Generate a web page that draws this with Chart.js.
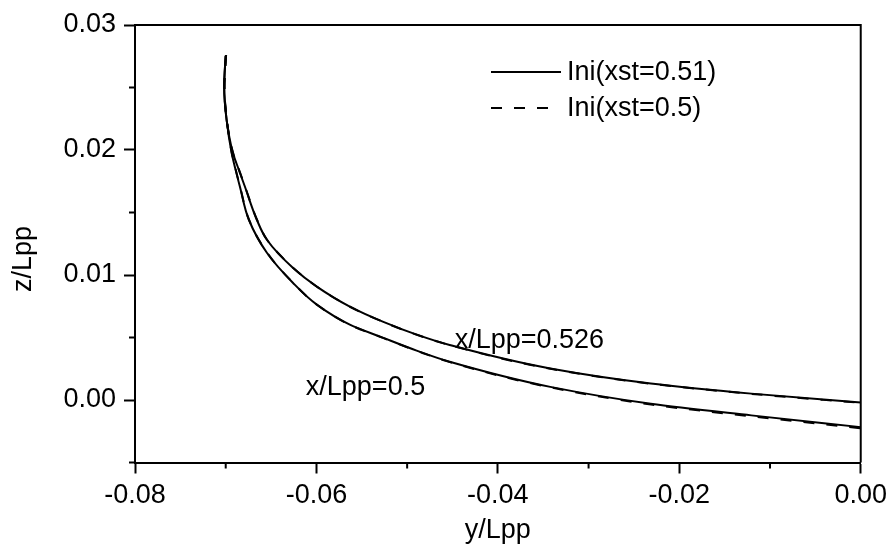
<!DOCTYPE html>
<html>
<head>
<meta charset="utf-8">
<script src="https://cdn.jsdelivr.net/npm/chart.js@4.4.1/dist/chart.umd.min.js"></script>
<style>
  html, body { margin: 0; padding: 0; background: #fff; }
  #wrap { width: 893px; height: 549px; }
</style>
</head>
<body>
<div id="wrap"><canvas id="c" width="893" height="549"></canvas></div>
<script>
// Section x/Lpp = 0.526, initial xst = 0.51 (solid)
const yA526 = [-0.07001, -0.07017, -0.06990, -0.06921, -0.06855, -0.06789, -0.06657, -0.06546, -0.06260, -0.05996, -0.05632, -0.05269, -0.04895, -0.04531, -0.03422, -0.02314, -0.01206, 0.0];
const zA526 = [0.02754, 0.02506, 0.02240, 0.01977, 0.01841, 0.01708, 0.01442, 0.01282, 0.01058, 0.00907, 0.00747, 0.00627, 0.00523, 0.00440, 0.00252, 0.00132, 0.00051, -0.00020];
// Section x/Lpp = 0.5, initial xst = 0.51 (solid)
const yA500 = [-0.07001, -0.07017, -0.06990, -0.06935, -0.06891, -0.06844, -0.06745, -0.06546, -0.06260, -0.05996, -0.05632, -0.05269, -0.04895, -0.04531, -0.03422, -0.02314, -0.01206, 0.0];
const zA500 = [0.02754, 0.02506, 0.02240, 0.01977, 0.01841, 0.01708, 0.01442, 0.01178, 0.00938, 0.00763, 0.00603, 0.00499, 0.00395, 0.00306, 0.00105, -0.00030, -0.00123, -0.00217];
// Same sections, initial xst = 0.5 (dashed)
const yB526 = [-0.06996, -0.07014, -0.06988, -0.06919, -0.06853, -0.06787, -0.06655, -0.06544, -0.06258, -0.05994, -0.05630, -0.05267, -0.04893, -0.04529, -0.03420, -0.02312, -0.01204, 0.0];
const zB526 = [0.02760, 0.02506, 0.02240, 0.01977, 0.01841, 0.01708, 0.01442, 0.01282, 0.01058, 0.00906, 0.00746, 0.00626, 0.00522, 0.00439, 0.00250, 0.00130, 0.00049, -0.00023];
const yB500 = [-0.06996, -0.07014, -0.06988, -0.06933, -0.06889, -0.06842, -0.06743, -0.06544, -0.06258, -0.05994, -0.05630, -0.05267, -0.04893, -0.04529, -0.03420, -0.02312, -0.01204, 0.0];
const zB500 = [0.02760, 0.02506, 0.02240, 0.01977, 0.01841, 0.01708, 0.01442, 0.01178, 0.00938, 0.00762, 0.00601, 0.00497, 0.00393, 0.00303, 0.00101, -0.00036, -0.00131, -0.00226];

const seriesLabels = ['Ini(xst=0.51)', 'Ini(xst=0.5)'];
const xMajorTicks = [-0.08, -0.06, -0.04, -0.02, 0.0];
const xMinorTicks = [-0.07, -0.05, -0.03, -0.01];
const yMajorTicks = [0.0, 0.01, 0.02, 0.03];
const yMinorTicks = [-0.005, 0.005, 0.015, 0.025];
const sectionNotes = [
  { text: 'x/Lpp=0.526', y: -0.04476, z: 0.00472 },
  { text: 'x/Lpp=0.5',   y: -0.06117, z: 0.00097 }
];
const axisTitles = { x: 'y/Lpp', y: 'z/Lpp' };

const FONT = '"Liberation Sans", Arial, Helvetica, sans-serif';
const FSIZE = 27;

const pts = (xs, zs) => xs.map((v, i) => ({ x: v, y: zs[i] }));

// curves are smoothed along the vertical axis, where every section is monotone
const lineBase = {
  borderColor: '#000', borderWidth: 2, pointRadius: 0, fill: false,
  indexAxis: 'y', cubicInterpolationMode: 'monotone'
};

const datasets = [
  Object.assign({ label: seriesLabels[1], data: pts(yB526, zB526), borderDash: [11, 12] }, lineBase),
  Object.assign({ label: seriesLabels[1], data: pts(yB500, zB500), borderDash: [11, 12] }, lineBase),
  Object.assign({ label: seriesLabels[0], data: pts(yA526, zA526) }, lineBase),
  Object.assign({ label: seriesLabels[0], data: pts(yA500, zA500) }, lineBase)
];

const PLOT = { left: 135, right: 861.5, top: 25, bottom: 462.5 };
const W = 893, H = 549;

const decorations = {
  id: 'decorations',
  afterDraw(chart) {
    const ctx = chart.ctx;
    const xs = chart.scales.x, ys = chart.scales.y;
    const a = chart.chartArea;
    ctx.save();
    ctx.strokeStyle = '#000';
    ctx.lineWidth = 2;
    // frame on top and right
    ctx.beginPath();
    ctx.moveTo(a.left, a.top);
    ctx.lineTo(a.right, a.top);
    ctx.lineTo(a.right, a.bottom);
    ctx.stroke();
    // minor ticks
    ctx.beginPath();
    xMinorTicks.forEach(v => {
      const px = xs.getPixelForValue(v);
      ctx.moveTo(px, a.bottom);
      ctx.lineTo(px, a.bottom + 6);
    });
    yMinorTicks.forEach(v => {
      const py = ys.getPixelForValue(v);
      ctx.moveTo(a.left, py);
      ctx.lineTo(a.left - 6, py);
    });
    ctx.stroke();

    ctx.fillStyle = '#000';
    ctx.font = FSIZE + 'px ' + FONT;
    // section notes
    ctx.textAlign = 'left';
    ctx.textBaseline = 'middle';
    sectionNotes.forEach(n => {
      ctx.fillText(n.text, xs.getPixelForValue(n.y), ys.getPixelForValue(n.z));
    });
    // legend
    const tx = 567;
    const rows = [
      { y: 72, x0: 491, x1: 561, dash: [], text: seriesLabels[0] },
      { y: 108, x0: 491, x1: 549, dash: [11, 12], text: seriesLabels[1] }
    ];
    rows.forEach(r => {
      ctx.setLineDash(r.dash);
      ctx.beginPath();
      ctx.moveTo(r.x0, r.y);
      ctx.lineTo(r.x1, r.y);
      ctx.stroke();
      ctx.setLineDash([]);
      ctx.fillText(r.text, tx, r.y + 1);
    });
    // axis titles
    ctx.textAlign = 'center';
    ctx.fillText(axisTitles.x, (a.left + a.right) / 2, 531);
    ctx.save();
    ctx.translate(24, 259);
    ctx.rotate(-Math.PI / 2);
    ctx.fillText(axisTitles.y, 0, 0);
    ctx.restore();
    ctx.restore();
  }
};

const axisCommon = {
  type: 'linear',
  border: { display: true, color: '#000', width: 2 },
  grid: { display: true, drawOnChartArea: false, drawTicks: true, tickLength: 11, tickColor: '#000', tickWidth: 2 },
  ticks: { color: '#000', font: { family: FONT, size: FSIZE }, padding: 8 }
};

new Chart(document.getElementById('c'), {
  type: 'line',
  data: { datasets },
  options: {
    responsive: false,
    devicePixelRatio: 1,
    animation: false,
    layout: { padding: { left: 0, right: W - PLOT.right, top: PLOT.top, bottom: 0 } },
    plugins: { legend: { display: false }, tooltip: { enabled: false } },
    scales: {
      x: Object.assign({}, axisCommon, {
        position: 'bottom',
        min: -0.08, max: 0.0,
        afterBuildTicks: s => { s.ticks = xMajorTicks.map(v => ({ value: v })); },
        afterFit: s => { s.height = H - PLOT.bottom; },
        ticks: Object.assign({}, axisCommon.ticks, { padding: 6, callback: v => Number(v).toFixed(2), maxRotation: 0 })
      }),
      y: Object.assign({}, axisCommon, {
        position: 'left',
        min: -0.005, max: 0.03,
        afterBuildTicks: s => { s.ticks = yMajorTicks.map(v => ({ value: v })); },
        afterFit: s => { s.width = PLOT.left; },
        ticks: Object.assign({}, axisCommon.ticks, { callback: v => Number(v).toFixed(2) })
      })
    }
  },
  plugins: [decorations]
});
</script>
</body>
</html>
